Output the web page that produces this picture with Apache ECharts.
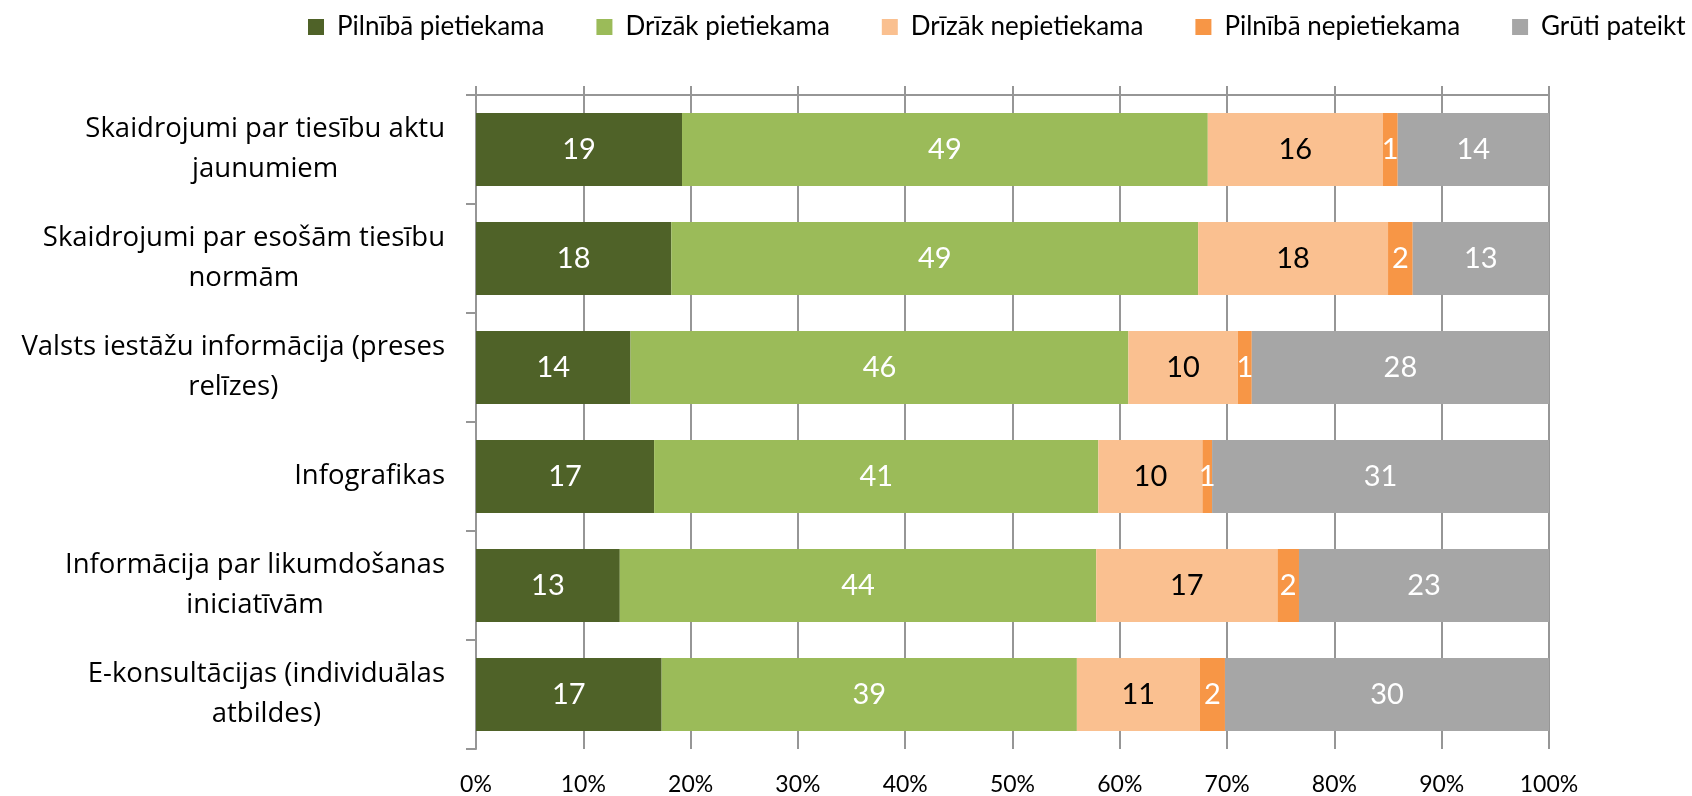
<!DOCTYPE html>
<html>
<head>
<meta charset="utf-8">
<script src="https://cdn.jsdelivr.net/npm/echarts@6/dist/echarts.min.js"></script>
<style>
  html, body { margin: 0; padding: 0; background: #fff; }
  #chart { width: 1692px; height: 796px; }
</style>
</head>
<body>
<div id="chart"></div>
<script>
const categories = [
  'Skaidrojumi par tiesību aktu\njaunumiem',
  'Skaidrojumi par esošām tiesību\nnormām',
  'Valsts iestāžu informācija (preses\nrelīzes)',
  'Infografikas',
  'Informācija par likumdošanas\niniciatīvām',
  'E-konsultācijas (individuālas\natbildes)'
];
const seriesNames = ['Pilnībā pietiekama', 'Drīzāk pietiekama', 'Drīzāk nepietiekama', 'Pilnībā nepietiekama', 'Grūti pateikt'];
const pilnibaPietiekama   = [19.2, 18.2, 14.4, 16.6, 13.4, 17.3];
const drizakPietiekama    = [49.0, 49.1, 46.4, 41.4, 44.4, 38.7];
const drizakNepietiekama  = [16.3, 17.7, 10.2, 9.7, 16.9, 11.45];
const pilnibaNepietiekama = [1.4, 2.3, 1.3, 0.9, 2.0, 2.35];
const grutiPateikt        = [14.1, 12.7, 27.7, 31.4, 23.3, 30.2];
const xTicks = [0, 10, 20, 30, 40, 50, 60, 70, 80, 90, 100];

const seriesData = [pilnibaPietiekama, drizakPietiekama, drizakNepietiekama, pilnibaNepietiekama, grutiPateikt];
const colors = ['#4F6228', '#9BBB59', '#FAC090', '#F79646', '#A6A6A6'];
const labelColors = ['#ffffff', '#ffffff', '#000000', '#ffffff', '#ffffff'];
const gridColor = '#969696';
const numFont = 'Lato, "Liberation Sans", sans-serif';
const catFont = "'Open Sans', 'Noto Sans', sans-serif";

const chart = echarts.init(document.getElementById('chart'), null, { renderer: 'canvas' });
chart.setOption({
  animation: false,
  backgroundColor: '#ffffff',
  color: colors,
  legend: {
    top: 9,
    left: 303,
    icon: 'rect',
    itemWidth: 16,
    itemHeight: 16,
    itemGap: 52,
    textStyle: { fontFamily: numFont, fontSize: 26, color: '#000', padding: [0, 0, 0, 8] },
    data: seriesNames
  },
  grid: { left: 476, right: 143, top: 95, bottom: 46, containLabel: false },
  xAxis: [
    {
      type: 'value', position: 'bottom',
      min: xTicks[0], max: xTicks[xTicks.length - 1], interval: xTicks[1] - xTicks[0],
      axisLine: { show: false },
      axisTick: { show: false },
      splitLine: { show: true, lineStyle: { color: gridColor, width: 2 } },
      axisLabel: { formatter: '{value}%', fontFamily: numFont, fontSize: 23, color: '#000', margin: 24 }
    },
    {
      type: 'value', position: 'top',
      min: xTicks[0], max: xTicks[xTicks.length - 1], interval: xTicks[1] - xTicks[0],
      axisLine: { show: true, lineStyle: { color: gridColor, width: 2 } },
      axisTick: { show: true, length: 9, lineStyle: { color: gridColor, width: 2 } },
      splitLine: { show: false },
      axisLabel: { show: false }
    }
  ],
  yAxis: {
    type: 'category',
    inverse: true,
    data: categories,
    axisLine: { show: true, lineStyle: { color: gridColor, width: 2 } },
    axisTick: { show: true, length: 10, lineStyle: { color: gridColor, width: 2 } },
    axisLabel: {
      margin: 31,
      fontFamily: catFont,
      fontSize: 27.5,
      lineHeight: 40,
      color: '#000',
      formatter: v => v.split('\n').map(s => '{c|' + s + '}').join('\n'),
      rich: {
        c: { align: 'center', fontFamily: catFont, fontSize: 27.5, lineHeight: 40, color: '#000' }
      }
    }
  },
  series: seriesData.map((d, i) => ({
    name: seriesNames[i],
    type: 'bar',
    stack: 'total',
    xAxisIndex: 0,
    barCategoryGap: '33%',
    data: d,
    itemStyle: { color: colors[i] },
    label: {
      show: true,
      position: 'inside',
      formatter: p => Math.round(p.value),
      fontFamily: numFont,
      fontSize: 29,
      color: labelColors[i]
    }
  }))
});
</script>
</body>
</html>
